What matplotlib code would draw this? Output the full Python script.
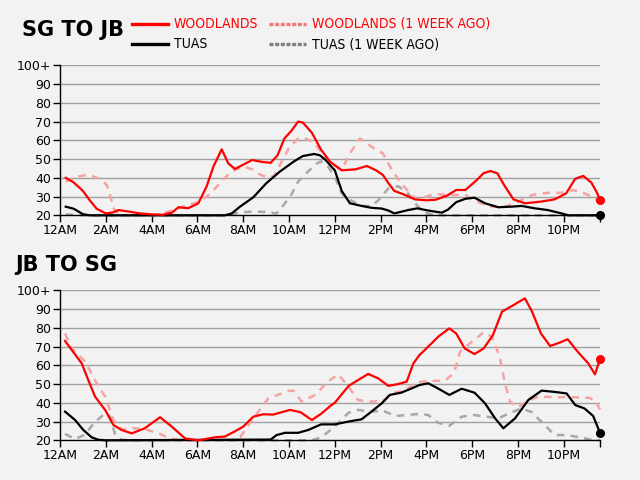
import matplotlib
matplotlib.use("Agg")
import matplotlib.pyplot as plt
from matplotlib.lines import Line2D

# ---------------- data (hours since midnight, value) ----------------
sg_wood_h = [0.25,0.6,1.0,1.3,1.6,2.0,2.3,2.55,3.0,3.5,4.0,4.5,4.9,5.17,5.6,6.04,6.4,6.7,7.06,7.35,7.64,8.0,8.4,8.8,9.2,9.5,9.8,10.1,10.4,10.6,11.0,11.4,11.8,12.3,12.9,13.4,13.8,14.1,14.35,14.6,15.0,15.5,16.0,16.4,16.9,17.3,17.7,18.2,18.5,18.8,19.1,19.4,19.8,20.3,21.0,21.6,22.1,22.5,22.85,23.2,23.45,23.58]
sg_wood_v = [40,37.5,33,28,23.5,21,21.5,22.8,22,21,20.5,20.3,21.5,24.3,23.8,26.4,35.3,46,55.2,47.7,44.7,47,49.5,48.5,48,52,61,65,70,69.5,64,55,48.5,44,44.5,46.3,44,41.5,37,33,31.2,28.5,28,28.3,30.5,33.5,33.5,38.8,42.5,43.6,42.4,36,28.5,26.4,27.3,28.5,31.7,39.5,41,37.5,32,28.2]

sg_wood_wk_h = [0.25,0.7,1.16,1.5,1.8,2.05,2.2,2.35,2.6,3.0,4.0,4.3,4.7,5.1,5.6,6.1,6.5,6.85,7.2,7.5,8.0,8.4,8.7,9.1,9.35,9.6,10.0,10.4,10.7,11.05,11.5,11.9,12.3,12.65,13.1,13.6,14.1,14.5,14.9,15.36,15.6,16.0,16.4,16.94,17.7,18.2,18.85,19.43,20.0,20.6,21.3,21.9,22.4,22.9,23.3,23.58]
sg_wood_wk_v = [38,40.5,41.5,40.5,39,36,30,23.5,20.3,20,20,20.3,21.8,23.5,25.5,27.3,31,35.3,40,43.5,46,44.5,42,40,41,46.8,56,61,61,59.3,52.5,47.5,44.2,53,61,56.6,53,44,37,30.8,28.5,30,31.4,30.8,30.8,27.3,24.6,24.6,27.3,30.8,32,32,33.5,31.7,29.5,26.4]

sg_tuas_h = [0.25,0.6,1.0,1.3,7.2,7.5,7.86,8.44,9.0,9.6,10.2,10.6,11.1,11.35,11.6,11.85,12.0,12.3,12.66,13.17,13.6,14.05,14.35,14.6,15.2,15.6,16.1,16.67,16.94,17.3,17.7,18.1,18.56,19.14,19.7,20.16,20.74,21.3,21.9,22.2,23.58]
sg_tuas_v = [24.6,23.5,20.6,20,20,21,24.6,29.6,37,43.3,48.6,51.6,52.7,52,49.5,46,44,33,26.4,25,24,23.6,22.5,21,22.8,23.7,22.5,21.4,23,27,28.8,29.4,26.4,24.3,24.6,25,23.7,22.8,21,20,20]

sg_tuas_wk_h = [0.25,1.0,7.3,7.8,8.4,9.0,9.45,9.8,10.1,10.4,10.8,11.2,11.4,11.7,12.0,12.3,12.66,13.17,13.6,13.9,14.34,14.77,15.2,15.5,15.9,16.4,23.58]
sg_tuas_wk_v = [20.5,20,20,21.5,22,21.8,21,26,31,38,43,47.5,48.8,46,40.6,31.7,28.2,25,25,28,34.4,35.5,31.7,26.4,21.5,20,20]

jb_wood_h = [0.22,0.51,0.95,1.24,1.53,1.97,2.33,2.69,3.13,3.7,4.37,4.88,5.46,6.04,6.77,7.2,7.64,8.0,8.44,8.88,9.3,10.04,10.5,11.0,11.43,11.8,12.0,12.6,13.0,13.46,13.9,14.34,14.77,15.14,15.43,15.7,16.0,16.52,17.0,17.3,17.67,18.1,18.5,18.9,19.3,19.73,20.3,20.6,21.0,21.4,21.8,22.17,22.6,23.07,23.36,23.58]
jb_wood_v = [73,68.2,61,52,43.3,36.2,28.2,25.5,23.7,26.4,32.3,27.3,21,20,21.6,22,24.8,27.3,32.6,33.9,33.7,36.2,35,30.8,34.4,38.3,40,49,52,55.4,53,49,50,51.3,61,65.5,69,75.3,79.7,77,69,66,69,76,88.6,91.6,95.7,89,77,70.3,72,73.9,67.3,61,55.2,63.2]

jb_wood_wk_h = [0.22,0.51,1.1,1.53,1.97,2.33,2.69,3.2,3.7,4.37,4.8,5.3,7.5,7.86,8.08,8.5,9.1,9.97,10.2,10.55,11.14,11.7,12.15,12.6,13.0,13.6,14.1,14.5,15.07,15.6,16.0,16.8,17.2,17.47,17.9,18.5,18.85,19.2,19.43,19.65,20.0,20.5,20.9,21.6,22.3,23.07,23.36,23.58]
jb_wood_wk_v = [77,69,62,52,43.3,30.8,25.8,26.4,26,23.4,21,20,20,21.6,25.5,32.6,42.4,46.3,46.5,40.6,44.2,51.3,55.2,48.6,41.5,40.6,41,45,46.8,51,51.6,51.8,55.7,67.3,71.7,77.6,75.3,64.6,50.4,40.6,37.6,41.5,43.3,43,43,42.7,41.5,36.5]

jb_tuas_h = [0.22,0.66,1.02,1.38,1.67,2.0,9.2,9.46,9.83,10.4,10.84,11.4,12.0,12.6,13.17,13.6,14.05,14.4,14.9,15.36,15.7,16.08,16.5,17.0,17.54,18.1,18.56,19.0,19.36,19.87,20.45,21.03,21.6,22.12,22.5,22.9,23.28,23.58]
jb_tuas_v = [35.3,30.8,25.5,21.6,20.3,20,20.4,22.8,24,24,25.5,28.5,28.5,30,31.2,35.3,39.7,44.2,45.4,47.7,49.5,50.4,47.7,44.2,47.5,45.4,39.7,31.7,26.4,31.7,41.5,46.5,45.8,45,38.8,37,33,24]

jb_tuas_wk_h = [0.22,0.66,1.1,1.46,1.97,2.18,2.4,2.69,3.0,11.0,11.4,12.0,12.6,13.0,13.6,14.1,14.63,15.2,15.7,16.08,16.5,17.0,17.54,18.05,18.63,19.14,19.73,20.16,20.6,21.1,21.6,22.12,22.6,23.2,23.58]
jb_tuas_wk_v = [23.4,20.7,23,29,34.4,32.7,23.4,20.3,20,20,21.5,27.3,34.7,36.2,35.3,35.8,33,33.5,34.1,33.5,29.4,27.8,32.6,33.5,32.6,31.7,35,37,35,28.9,22.8,22.8,21.8,20.3,20]

x_ticks = [0, 2, 4, 6, 8, 10, 12, 14, 16, 18, 20, 22]
x_labels = ["12AM", "2AM", "4AM", "6AM", "8AM", "10AM", "12PM", "2PM", "4PM", "6PM", "8PM", "10PM"]
y_ticks = [20, 30, 40, 50, 60, 70, 80, 90, 100]
y_labels = ["20", "30", "40", "50", "60", "70", "80", "90", "100+"]
end_hour = 23.58

RED = "#ff0000"
RED_WK = "#f5a3a3"
GRAY_WK = "#a8a8a8"
BG = "#f2f2f2"

fig = plt.figure(figsize=(6.4, 4.8), dpi=100, facecolor=BG)

def panel(rect, wood, wood_wk, tuas, tuas_wk):
    ax = fig.add_axes(rect)
    ax.set_facecolor(BG)
    ax.set_xlim(0, end_hour)
    ax.set_ylim(20, 100)
    for y in y_ticks[1:]:
        ax.axhline(y, color="#a0a0a0", lw=1.0, zorder=0)
    ax.plot(*tuas_wk, color=GRAY_WK, lw=1.8, ls=(0, (3, 2.5)), clip_on=False, zorder=2)
    ax.plot(*wood_wk, color=RED_WK, lw=1.8, ls=(0, (3, 2.5)), clip_on=False, zorder=2)
    ax.plot(*tuas, color="black", lw=1.6, clip_on=False, zorder=3)
    ax.plot(*wood, color=RED, lw=1.6, clip_on=False, zorder=4)
    ax.plot([tuas[0][-1]], [tuas[1][-1]], "o", color="black", ms=5.5, clip_on=False, zorder=5)
    ax.plot([wood[0][-1]], [wood[1][-1]], "o", color=RED, ms=5.5, clip_on=False, zorder=5)
    ax.set_yticks(y_ticks)
    ax.set_yticklabels(y_labels)
    ax.set_xticks(x_ticks + [end_hour])
    ax.set_xticklabels(x_labels + [""])
    for s in ("top", "right"):
        ax.spines[s].set_visible(False)
    for s in ("left", "bottom"):
        ax.spines[s].set_color("black")
        ax.spines[s].set_linewidth(1.0)
    ax.tick_params(axis="both", direction="out", length=5, width=1, color="black",
                   labelsize=9, labelcolor="black", pad=1.5)
    return ax

panel([60/640, 1-215.3/480, 540/640, 150/480],
      (sg_wood_h, sg_wood_v), (sg_wood_wk_h, sg_wood_wk_v),
      (sg_tuas_h, sg_tuas_v), (sg_tuas_wk_h, sg_tuas_wk_v))
panel([60/640, 1-440.3/480, 540/640, 150/480],
      (jb_wood_h, jb_wood_v), (jb_wood_wk_h, jb_wood_wk_v),
      (jb_tuas_h, jb_tuas_v), (jb_tuas_wk_h, jb_tuas_wk_v))

# titles
fig.text(22/640, 1-30/480, "SG TO JB", fontsize=15, fontweight="bold", family="DejaVu Sans",
         va="center", ha="left", color="black")
fig.text(15/640, 1-265/480, "JB TO SG", fontsize=15, fontweight="bold", family="DejaVu Sans",
         va="center", ha="left", color="black")

# legend
def leg_line(x0, x1, y, color, ls, lw):
    fig.add_artist(Line2D([x0/640, x1/640], [1-y/480, 1-y/480], color=color, ls=ls, lw=lw,
                          transform=fig.transFigure))

leg_line(132, 168, 23.5, RED, "-", 2.4)
leg_line(132, 168, 44, "black", "-", 2.4)
leg_line(269, 306, 23.5, "#f07878", (0, (1.2, 0.5)), 2.4)
leg_line(269, 306, 44, "#808080", (0, (1.2, 0.5)), 2.4)
leg_kw = dict(fontsize=10, fontstretch="condensed", va="center", ha="left", family="DejaVu Sans")
fig.text(174/640, 1-23.5/480, "WOODLANDS", color=RED, **leg_kw)
fig.text(174/640, 1-44/480, "TUAS", color="black", **leg_kw)
fig.text(312/640, 1-23.5/480, "WOODLANDS (1 WEEK AGO)", color=RED, **leg_kw)
fig.text(312/640, 1-44/480, "TUAS (1 WEEK AGO)", color="black", **leg_kw)

fig.savefig("out.png", dpi=100, facecolor=BG)
